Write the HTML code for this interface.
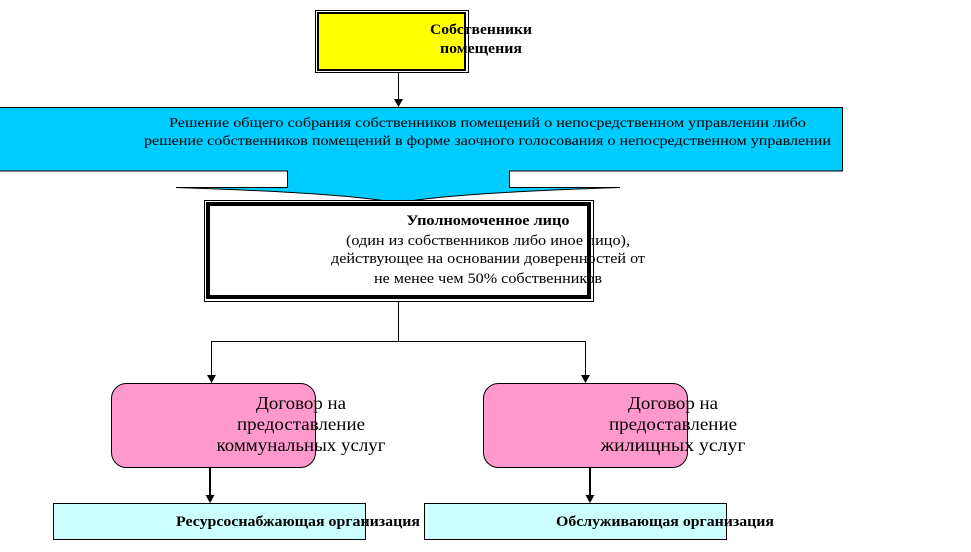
<!DOCTYPE html>
<html><head><meta charset="utf-8"><style>
html,body{margin:0;padding:0;background:#fff;width:971px;height:552px;overflow:hidden}
svg text{font-family:"Liberation Serif","DejaVu Serif",serif}
</style></head><body>
<svg width="971" height="552" viewBox="0 0 971 552" xmlns="http://www.w3.org/2000/svg">
<!-- yellow -->
<rect x="315.5" y="10.5" width="153" height="62" fill="#fff" stroke="#000"/>
<rect x="318" y="13" width="147" height="57" fill="#ffff00" stroke="#000" stroke-width="2"/>
<text x="481" y="34" font-size="15" font-weight="bold" text-anchor="middle" textLength="102" lengthAdjust="spacingAndGlyphs">Собственники</text>
<text x="481" y="53" font-size="15" font-weight="bold" text-anchor="middle" textLength="82" lengthAdjust="spacingAndGlyphs">помещения</text>
<line x1="398.5" y1="72" x2="398.5" y2="100" stroke="#000"/>
<polygon points="394,99 403,99 398.5,107" fill="#000"/>
<!-- blue arrow shape -->
<path d="M0,107.5 H842.5 V171 H509.5 V187.5 H620 Q450,193 398,203 Q346,193 176,187.5 H287.5 V171 H0 Z" fill="#00ccff"/>
<path d="M0,107.5 H842.5 V171 H509.5 V187.5 H620 Q450,193 398,203 Q346,193 176,187.5 H287.5 V171 H0" fill="none" stroke="#000"/>
<text x="169" y="127" font-size="14" textLength="637" lengthAdjust="spacingAndGlyphs">Решение общего собрания собственников помещений о непосредственном управлении  либо</text>
<text x="144" y="145" font-size="14" textLength="687" lengthAdjust="spacingAndGlyphs">решение собственников помещений в форме заочного голосования о непосредственном управлении</text>
<!-- authorized -->
<rect x="204.5" y="200.5" width="389" height="101" fill="#fff" stroke="#000"/>
<rect x="208" y="204" width="381" height="93" fill="#fff" stroke="#000" stroke-width="4"/>
<text x="488" y="225" font-size="15" font-weight="bold" text-anchor="middle" textLength="163" lengthAdjust="spacingAndGlyphs">Уполномоченное лицо</text>
<text x="488" y="245" font-size="15" text-anchor="middle" textLength="284" lengthAdjust="spacingAndGlyphs">(один из собственников либо иное лицо),</text>
<text x="488" y="263" font-size="15" text-anchor="middle" textLength="314" lengthAdjust="spacingAndGlyphs">действующее на основании доверенностей от</text>
<text x="488" y="283" font-size="15" text-anchor="middle" textLength="228" lengthAdjust="spacingAndGlyphs">не менее чем 50% собственников</text>
<!-- connectors -->
<path d="M398.5,301 V341.5 H211.5 V376 M398.5,341.5 H585.5 V376" fill="none" stroke="#000"/>
<polygon points="207,375 216,375 211.5,383" fill="#000"/>
<polygon points="581,375 590,375 585.5,383" fill="#000"/>
<!-- pink -->
<rect x="111.5" y="383.5" width="204" height="84" rx="15" fill="#ff99cc" stroke="#000"/>
<rect x="483.5" y="383.5" width="204" height="84" rx="15" fill="#ff99cc" stroke="#000"/>
<g font-size="18" text-anchor="middle">
<text x="301" y="409" textLength="90" lengthAdjust="spacingAndGlyphs">Договор на</text>
<text x="301" y="430" textLength="128" lengthAdjust="spacingAndGlyphs">предоставление</text>
<text x="301" y="451" textLength="169" lengthAdjust="spacingAndGlyphs">коммунальных услуг</text>
<text x="673" y="409" textLength="90" lengthAdjust="spacingAndGlyphs">Договор на</text>
<text x="673" y="430" textLength="128" lengthAdjust="spacingAndGlyphs">предоставление</text>
<text x="673" y="451" textLength="145" lengthAdjust="spacingAndGlyphs">жилищных услуг</text>
</g>
<line x1="210" y1="467" x2="210" y2="496" stroke="#000" stroke-width="2"/>
<polygon points="205.5,495 214.5,495 210,503" fill="#000"/>
<line x1="590" y1="467" x2="590" y2="496" stroke="#000" stroke-width="2"/>
<polygon points="585.5,495 594.5,495 590,503" fill="#000"/>
<!-- cyan -->
<rect x="53.5" y="503.5" width="312" height="36" fill="#ccffff" stroke="#000"/>
<rect x="424.5" y="503.5" width="302" height="36" fill="#ccffff" stroke="#000"/>
<text x="176" y="526" font-size="15" font-weight="bold" textLength="244" lengthAdjust="spacingAndGlyphs">Ресурсоснабжающая организация</text>
<text x="556" y="526" font-size="15" font-weight="bold" textLength="218" lengthAdjust="spacingAndGlyphs">Обслуживающая организация</text>
</svg>
</body></html>
